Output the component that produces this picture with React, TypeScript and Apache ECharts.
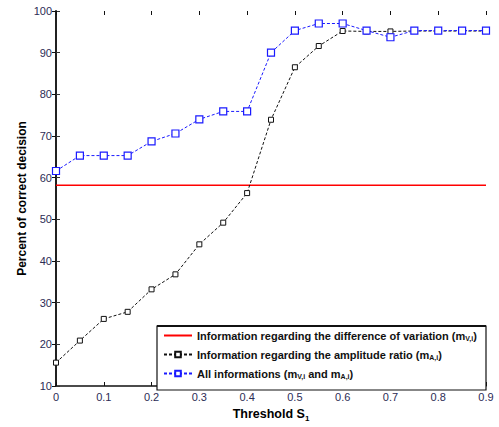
import React, { useEffect, useRef } from "react";
import * as echarts from "echarts";

const thresholds = [0, 0.05, 0.1, 0.15, 0.2, 0.25, 0.3, 0.35, 0.4, 0.45, 0.5, 0.55, 0.6, 0.65, 0.7, 0.75, 0.8, 0.85, 0.9];
const amplitudeRatio = [15.6, 20.9, 26.1, 27.8, 33.2, 36.8, 44, 49.2, 56.3, 73.9, 86.5, 91.6, 95.2, 95.1, 95.1, 95.2, 95.2, 95.2, 95.2];
const allInfo = [61.6, 65.3, 65.3, 65.3, 68.7, 70.6, 74, 75.9, 75.9, 90, 95.3, 97, 97, 95.3, 93.7, 95.3, 95.3, 95.3, 95.3];
const variationLevel = 58.2;
const xTicks = [0, 0.1, 0.2, 0.3, 0.4, 0.5, 0.6, 0.7, 0.8, 0.9];
const yTicks = [10, 20, 30, 40, 50, 60, 70, 80, 90, 100];

const names = [
  "Information regarding the difference of variation (m{s|V,i})",
  "Information regarding the amplitude ratio (m{s|A,i})",
  "All informations (m{s|V,i} and m{s|A,i})",
];

export default function App() {
  const ref = useRef<HTMLDivElement>(null);
  useEffect(() => {
    if (!ref.current) return;
    const chart = echarts.init(ref.current, null, { renderer: "svg" });
    const font = "Liberation Sans, Arial, sans-serif";
    const labelColor = "#2c2c55";
    chart.setOption({
      animation: false,
      textStyle: { fontFamily: font },
      grid: { left: 56, right: 13, top: 11, bottom: 34 },
      xAxis: [
        {
          type: "value",
          min: 0,
          max: 0.9,
          interval: 0.1,
          name: "Threshold S{s|1}",
          nameLocation: "middle",
          nameGap: 19,
          nameMoveOverlap: false,
          nameTextStyle: {
            fontSize: 12.5,
            fontWeight: "bold",
            color: "#000",
            fontFamily: font,
            rich: { s: { fontSize: 8, fontWeight: "bold", padding: [9, 0, 0, 0], color: "#000" } },
          },
          axisLine: { show: true, lineStyle: { color: "#111", width: 1.5 } },
          axisTick: { show: true, inside: true, length: 4, lineStyle: { color: "#111" } },
          axisLabel: {
            fontSize: 11,
            color: labelColor,
            margin: 5,
            formatter: (v: number) => {
              const t = xTicks.find((x) => Math.abs(x - v) < 1e-6);
              return t === undefined ? "" : String(Math.round(t * 10) / 10);
            },
          },
          splitLine: { show: false },
        },
        {
          type: "value",
          position: "top",
          min: 0,
          max: 0.9,
          interval: 0.1,
          axisLine: { show: false },
          axisTick: { show: true, inside: true, length: 4, lineStyle: { color: "#111" } },
          axisLabel: { show: false },
          splitLine: { show: false },
        },
      ],
      yAxis: [
        {
          type: "value",
          min: 10,
          max: 100,
          interval: 10,
          name: "Percent of correct decision",
          nameLocation: "middle",
          nameGap: 28,
          nameMoveOverlap: false,
          nameTextStyle: { fontSize: 12, fontWeight: "bold", color: "#000", fontFamily: font },
          axisLine: { show: true, lineStyle: { color: "#555", width: 2 } },
          axisTick: { show: true, inside: true, length: 4, lineStyle: { color: "#333" } },
          axisLabel: {
            fontSize: 11,
            color: labelColor,
            margin: 4,
            formatter: (v: number) => (yTicks.includes(v) ? String(v) : ""),
          },
          splitLine: { show: false },
        },
        {
          type: "value",
          position: "right",
          min: 10,
          max: 100,
          interval: 10,
          axisLine: { show: true, lineStyle: { color: "#111", width: 1.5 } },
          axisTick: { show: true, inside: true, length: 4, lineStyle: { color: "#111" } },
          axisLabel: { show: false },
          splitLine: { show: false },
        },
      ],
      legend: {
        orient: "vertical",
        left: 163,
        top: 329,
        padding: 0,
        itemGap: 6,
        itemWidth: 28,
        itemHeight: 7,
        z: 20,
        textStyle: {
          fontSize: 11,
          fontWeight: "bold",
          color: "#111",
          fontFamily: font,
          lineHeight: 13,
          rich: { s: { fontSize: 7, fontWeight: "bold", padding: [5, 0, 0, 0], color: "#111", lineHeight: 13 } },
        },
        data: [
          { name: names[0], itemStyle: { opacity: 0 } },
          { name: names[1] },
          { name: names[2] },
        ],
      },
      graphic: [
        {
          type: "rect",
          shape: { x: 157, y: 326, width: 329, height: 64 },
          style: { fill: "#fff", stroke: "#111", lineWidth: 1.2 },
          z: 1,
        },
        {
          type: "line",
          shape: { x1: 157, y1: 326, x2: 486, y2: 326 },
          style: { stroke: "#111", lineWidth: 1.8 },
          z: 1,
        },
      ],
      series: [
        {
          name: names[0],
          type: "line",
          data: [
            [0, variationLevel],
            [0.9, variationLevel],
          ],
          symbol: "none",
          lineStyle: { color: "#ff0000", width: 1.5 },
          itemStyle: { color: "#ff0000" },
          z: 3,
        },
        {
          name: names[1],
          type: "line",
          data: thresholds.map((t, i) => [t, amplitudeRatio[i]]),
          symbol: "rect",
          symbolSize: 5,
          lineStyle: { color: "#111", width: 1, type: [3, 2] },
          itemStyle: { color: "#fff", borderColor: "#111", borderWidth: 1 },
          z: 4,
        },
        {
          name: names[2],
          type: "line",
          data: thresholds.map((t, i) => [t, allInfo[i]]),
          symbol: "rect",
          symbolSize: 7,
          lineStyle: { color: "#1a1aff", width: 1, type: [3, 2] },
          itemStyle: { color: "#fff", borderColor: "#1a1aff", borderWidth: 1.2 },
          z: 5,
        },
      ],
    });
    return () => chart.dispose();
  }, []);
  return <div ref={ref} style={{ width: 499, height: 427, position: "absolute", left: 0, top: 0 }} />;
}
